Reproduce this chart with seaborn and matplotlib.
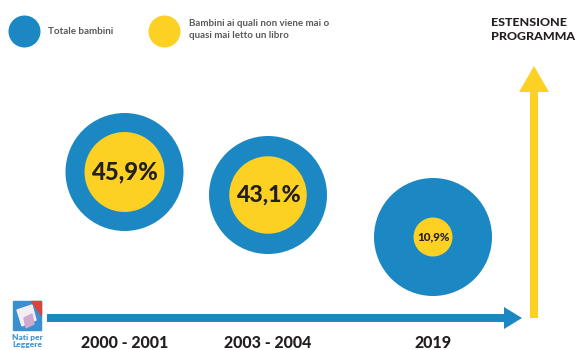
import matplotlib
matplotlib.use("Agg")
import matplotlib.pyplot as plt
import seaborn as sns
import pandas as pd
from matplotlib.patches import Rectangle, Polygon

# ---- data ----
periods = ["2000 - 2001", "2003 - 2004", "2019"]
pct_never_read = [45.9, 43.1, 10.9]
pct_labels = ["45,9%", "43,1%", "10,9%"]
total_children = [100, 100, 100]
legend_labels = ["Totale bambini", "Bambini ai quali non viene mai o\nquasi mai letto un libro"]
side_label = "ESTENSIONE\nPROGRAMMA"
logo_label = "Nati per\nLeggere"

# ---- layout (pixel space) ----
W, H, DPI = 577, 350, 100
x_pos = [124.5, 268, 433]
y_pos = [172, 195, 237]
outer_r = 59
BLUE = "#1b87c3"
YELLOW = "#fdd123"
DARK = "#231f20"
GREY = "#58595b"

sns.set_theme(style="white")
plt.rcParams["font.family"] = ["Lato", "DejaVu Sans"]

df = pd.DataFrame({"period": periods, "x": x_pos, "y": y_pos,
                   "total": total_children, "never": pct_never_read,
                   "label": pct_labels})

def px_to_s(r_px):
    d_pt = 2 * r_px * 72 / DPI
    return d_pt ** 2

fig = plt.figure(figsize=(W / DPI, H / DPI), dpi=DPI)
ax = fig.add_axes([0, 0, 1, 1])
ax.set_xlim(0, W)
ax.set_ylim(H, 0)
ax.axis("off")

# outer circles: total children (100%)
s_outer = [px_to_s(outer_r) * t / 100 for t in df["total"]]
sns.scatterplot(data=df, x="x", y="y", s=s_outer, color=BLUE, linewidth=0, ax=ax, legend=False, zorder=2)
# inner circles: area proportional to share
s_inner = [px_to_s(outer_r) * v / 100 for v in df["never"]]
sns.scatterplot(data=df, x="x", y="y", s=s_inner, color=YELLOW, linewidth=0, ax=ax, legend=False, zorder=3)

for _, row in df.iterrows():
    r_in = outer_r * (row["never"] / 100) ** 0.5
    fs = max(7.2, r_in * 0.43)
    ax.text(row["x"], row["y"], row["label"], ha="center", va="center",
            fontsize=fs, fontweight="black", color=DARK, zorder=4)
    ax.text(row["x"], 343, row["period"], ha="center", va="center",
            fontsize=11.5, fontweight="black", color=DARK)

# timeline arrow
ax.arrow(47, 318, 475, 0, width=8, head_width=22, head_length=18,
         length_includes_head=True, color=BLUE, lw=0, zorder=1)
# programme extension arrow
ax.arrow(534, 318, 0, -252, width=8, head_width=30, head_length=26,
         length_includes_head=True, color=YELLOW, lw=0, zorder=1)

ax.text(491, 29.5, side_label, ha="left", va="center", fontsize=8.9,
        fontweight="black", color=DARK, linespacing=1.35)

# legend
ax.scatter([24], [31], s=px_to_s(16), color=BLUE, lw=0)
ax.text(48, 31, legend_labels[0], ha="left", va="center", fontsize=7.1,
        fontweight="bold", color=GREY)
ax.scatter([163.5], [31], s=px_to_s(16), color=YELLOW, lw=0)
ax.text(189, 29.5, legend_labels[1], ha="left", va="center", fontsize=7.0,
        fontweight="bold", color=GREY, linespacing=1.3)

# logo
ax.add_patch(Rectangle((13, 301), 28, 29, color="#3a8fd0", zorder=2))
ax.add_patch(Polygon([[31, 301], [41, 301], [41, 315]], color="#d9453b", zorder=3))
ax.add_patch(Polygon([[17, 310], [32, 305], [36, 320], [22, 326]], color="#f3eef2", zorder=3))
ax.add_patch(Polygon([[24, 318], [32, 314], [34, 324], [26, 328]], color="#cfa9cf", zorder=4))
ax.text(12, 341, logo_label, ha="left", va="center", fontsize=6,
        fontweight="black", color="#3a8fd0", linespacing=1.0)

fig.savefig("out.png", dpi=DPI)
